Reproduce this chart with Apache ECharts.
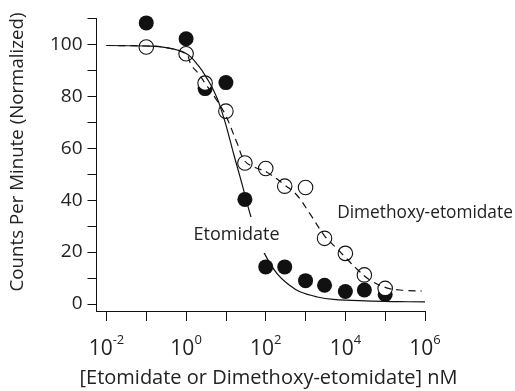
<!DOCTYPE html>
<html><head><meta charset="utf-8">
<script src="https://cdn.jsdelivr.net/npm/echarts@6/dist/echarts.min.js"></script>
<style>html,body{margin:0;padding:0;background:#fff}#c{width:515px;height:391px}</style>
</head><body><div id="c"></div>
<script>
// Axis ticks (x is log10 of concentration in nM)
const xTickExponents = [-2, -1, 0, 1, 2, 3, 4, 5, 6];
const xLabelExponents = [-2, 0, 2, 4, 6];
const yTickValues = [0, 10, 20, 30, 40, 50, 60, 70, 80, 90, 100, 110];
const yLabelValues = [0, 20, 40, 60, 80, 100];

// Measured points (concentration nM, CPM normalized)
const etoConc = [0.1, 1, 3, 10, 30, 100, 300, 1000, 3000, 10000, 30000, 100000];
const etoCpm  = [108.3, 102.2, 83, 85.3, 40.3, 14.3, 14.3, 9.0, 7.2, 4.8, 5.4, 3.7];
const dmConc  = [0.1, 1, 3, 10, 30, 100, 300, 1000, 3000, 10000, 30000, 100000];
const dmCpm   = [99, 96.4, 85.1, 74.3, 54.3, 52.2, 45.4, 44.9, 25.3, 19.5, 11.2, 6.0];

// Fitted curves (log10 concentration, CPM)
const etoFitLog = [-2, -1, -0.5, 0, 0.3, 0.56, 0.7, 0.8, 0.9, 1.0, 1.2, 1.4, 1.58, 1.75, 1.96, 2.28, 2.6, 2.86, 3.3, 3.7, 4.5, 5.37, 6];
const etoFitVal = [99.6, 99.4, 98.8, 96.5, 92, 86, 82, 78.5, 74, 69, 57.5, 46.5, 36.2, 27.5, 19.7, 11.8, 7.2, 4.7, 2.7, 1.8, 1.2, 0.9, 0.8];
const dmFitLog = [-2, -1, -0.5, 0, 0.13, 0.3, 0.48, 0.77, 1.0, 1.27, 1.48, 1.75, 2.03, 2.48, 2.78, 3.1, 3.49, 3.78, 4.03, 4.29, 4.62, 5.04, 5.37, 5.92];
const dmFitVal = [99.6, 99.4, 98.8, 96.3, 92, 89, 85, 78.5, 72.5, 62.4, 55, 52.5, 50.8, 45.8, 42, 35, 26, 21.5, 17.5, 13.5, 9.2, 6.2, 5.4, 5];

const FONT = 'Open Sans';
const INK = '#111';
const TXT = '#222';
const toPts = (xs, ys, f) => xs.map((x, i) => [f ? Math.log10(x) : x, ys[i]]);

const chart = echarts.init(document.getElementById('c'), null, {renderer: 'canvas'});
chart.setOption({
  animation: false,
  backgroundColor: '#fff',
  grid: {left: 96.5, right: 90, top: 18.5, bottom: 80, containLabel: false},
  xAxis: {
    type: 'value', min: -2.25, max: 6,
    axisLine: {show: true, onZero: false, lineStyle: {color: INK, width: 1}},
    axisTick: {show: true, length: 10, customValues: xTickExponents, lineStyle: {color: INK, width: 1}},
    axisLabel: {
      customValues: xLabelExponents, margin: 23,
      formatter: v => '{b|10}{s|' + v + '}',
      rich: {
        b: {fontSize: 21, lineHeight: 31, fontFamily: FONT, color: TXT},
        s: {fontSize: 13, lineHeight: 15, verticalAlign: 'top', fontFamily: FONT, color: TXT}
      }
    },
    splitLine: {show: false}
  },
  yAxis: {
    type: 'value', min: -2.7, max: 110,
    axisLine: {show: true, onZero: false, lineStyle: {color: INK, width: 1}},
    axisTick: {show: true, length: 9, customValues: yTickValues, lineStyle: {color: INK, width: 1}},
    axisLabel: {customValues: yLabelValues, margin: 14, fontSize: 19, fontFamily: FONT, color: TXT},
    splitLine: {show: false}
  },
  series: [
    {type: 'scatter', data: toPts(etoConc, etoCpm, true), symbol: 'circle', symbolSize: 15,
     itemStyle: {color: INK, opacity: 1}, z: 2},
    {type: 'scatter', data: toPts(dmConc, dmCpm, true), symbol: 'circle', symbolSize: 14.5,
     itemStyle: {color: '#fff', borderColor: INK, borderWidth: 1.1, opacity: 1}, z: 3},
    {type: 'line', data: toPts(etoFitLog, etoFitVal, false), showSymbol: false, smooth: 0.4,
     lineStyle: {color: INK, width: 1.2}, z: 4},
    {type: 'line', data: toPts(dmFitLog, dmFitVal, false), showSymbol: false, smooth: 0.4,
     lineStyle: {color: INK, width: 1.2, type: [7, 5]}, z: 4}
  ],
  graphic: [
    {type: 'text', x: 18, y: 152, rotation: Math.PI / 2, z: 100,
     style: {text: 'Counts Per Minute (Normalized)', x: 0, y: 0, align: 'center', verticalAlign: 'middle',
             font: '18.7px "Open Sans"', fill: TXT}},
    {type: 'text', x: 268.5, y: 378, z: 100,
     style: {text: '[Etomidate or Dimethoxy-etomidate] nM', x: 0, y: 0, align: 'center', verticalAlign: 'middle',
             font: '20px "Open Sans"', fill: TXT}},
    {type: 'text', x: 236.5, y: 235, z: 100,
     style: {text: 'Etomidate', x: 0, y: 0, align: 'center', verticalAlign: 'middle',
             font: '18px "Open Sans"', fill: TXT, backgroundColor: '#fff', padding: [9, 2, 9, 2]}},
    {type: 'text', x: 425, y: 213, z: 100,
     style: {text: 'Dimethoxy-etomidate', x: 0, y: 0, align: 'center', verticalAlign: 'middle',
             font: '17.3px "Open Sans"', fill: TXT}}
  ]
});
</script></body></html>
